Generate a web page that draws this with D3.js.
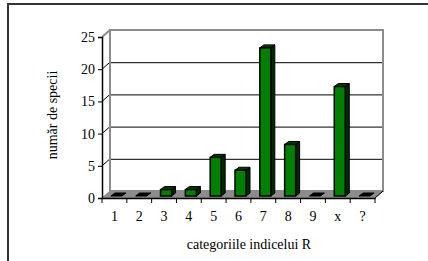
<!DOCTYPE html>
<html>
<head>
<meta charset="utf-8">
<script src="https://cdn.jsdelivr.net/npm/d3@7"></script>
<style>
  body { margin: 0; background: #fff; }
  text { font-family: "Liberation Serif", "Times New Roman", serif; font-size: 14px; fill: #000; }
</style>
</head>
<body>
<div id="chart"></div>
<script>
// data
var categories = ["1", "2", "3", "4", "5", "6", "7", "8", "9", "x", "?"];
var counts = [0, 0, 1, 1, 6, 4, 23, 8, 0, 17, 0];
var yTicks = [0, 5, 10, 15, 20, 25];

var width = 428, height = 261;
var x0 = 102, x1 = 375, yBase = 198, yTop = 37;
var wallDx = 8, wallDy = -7;      // depth of back wall
var barDx = 4, barDy = -3;        // depth of a bar
var barOff = 2;                   // bars sit half way into the floor

var svg = d3.select("#chart").append("svg")
    .attr("width", width).attr("height", height);

// outer frame
svg.append("rect")
    .attr("x", 8).attr("y", 4)
    .attr("width", 440).attr("height", 280)
    .attr("fill", "none").attr("stroke", "#333").attr("stroke-width", 2);

var x = d3.scaleBand().domain(categories).range([x0, x1]);
var y = d3.scaleLinear().domain([0, 25]).range([yBase, yTop]);

// floor
svg.append("path")
    .attr("d", "M" + x0 + "," + yBase + "L" + x1 + "," + yBase +
        "L" + (x1 + wallDx) + "," + (yBase + wallDy) +
        "L" + (x0 + wallDx) + "," + (yBase + wallDy) + "Z")
    .attr("fill", "#8c8c8c").attr("stroke", "#8c8c8c");

// back wall gridlines and side diagonals
yTicks.forEach(function(t) {
    if (t == 0) return;
    var yy = y(t);
    svg.append("line")
        .attr("x1", x0).attr("y1", yy)
        .attr("x2", x0 + wallDx).attr("y2", yy + wallDy)
        .attr("stroke", t == 25 ? "#8c8c8c" : "#000").attr("stroke-width", t == 25 ? 2 : 1);
    if (t < 25) {
        svg.append("line")
            .attr("x1", x0 + wallDx).attr("y1", yy + wallDy + 0.5)
            .attr("x2", x1 + wallDx).attr("y2", yy + wallDy + 0.5)
            .attr("stroke", "#000").attr("stroke-width", 1);
    }
});

// back wall border
svg.append("rect")
    .attr("x", x0 + wallDx).attr("y", y(25) + wallDy)
    .attr("width", x1 - x0).attr("height", y(0) - y(25))
    .attr("fill", "none").attr("stroke", "#8c8c8c").attr("stroke-width", 2);
svg.append("line")
    .attr("x1", x1).attr("y1", yBase)
    .attr("x2", x1 + wallDx).attr("y2", yBase + wallDy)
    .attr("stroke", "#000").attr("stroke-width", 1);

// bars
var bw = 11;
var bars = svg.selectAll(".bar")
    .data(categories.map(function(c, i) { return {cat: c, v: counts[i]}; }))
  .enter().append("g").attr("class", "bar");

bars.each(function(d) {
    var g = d3.select(this);
    var bx = x(d.cat) + (x.bandwidth() - bw) / 2 + barOff;
    var by0 = y(0) - barOff;
    var by1 = y(d.v) - barOff;
    if (d.v == 0) {
        g.append("path")
            .attr("d", "M" + bx + "," + by0 + "L" + (bx + bw) + "," + by0 +
                "L" + (bx + bw + barDx) + "," + (by0 + barDy) +
                "L" + (bx + barDx) + "," + (by0 + barDy) + "Z")
            .attr("fill", "#000").attr("stroke", "#000");
        return;
    }
    // side
    g.append("path")
        .attr("d", "M" + (bx + bw) + "," + by0 + "L" + (bx + bw) + "," + by1 +
            "L" + (bx + bw + barDx) + "," + (by1 + barDy) +
            "L" + (bx + bw + barDx) + "," + (by0 + barDy) + "Z")
        .attr("fill", "#002800").attr("stroke", "#000");
    // top
    g.append("path")
        .attr("d", "M" + bx + "," + by1 + "L" + (bx + bw) + "," + by1 +
            "L" + (bx + bw + barDx) + "," + (by1 + barDy) +
            "L" + (bx + barDx) + "," + (by1 + barDy) + "Z")
        .attr("fill", "#003c00").attr("stroke", "#000");
    // front
    g.append("rect")
        .attr("x", bx).attr("y", by1)
        .attr("width", bw).attr("height", by0 - by1)
        .attr("fill", "#008000").attr("stroke", "#000").attr("stroke-width", 1.5);
});

// y axis
var yAxis = svg.append("g").attr("transform", "translate(" + x0 + ",0)")
    .call(d3.axisLeft(y).tickValues(yTicks).tickSize(4).tickPadding(3));
yAxis.select(".domain").attr("stroke", "#000").attr("stroke-width", 1.5);
yAxis.selectAll("text").style("font-size", "14px").style("font-family", "Liberation Serif");

// x axis
var xAxis = svg.append("g").attr("transform", "translate(0," + yBase + ")")
    .call(d3.axisBottom(x).tickSize(0).tickPadding(13));
xAxis.select(".domain").attr("stroke", "#000").attr("stroke-width", 1.5);
xAxis.selectAll("text").style("font-size", "14px").style("font-family", "Liberation Serif");
xAxis.selectAll(".sep")
    .data(d3.range(categories.length + 1))
  .enter().append("line")
    .attr("x1", function(i) { return x0 + i * x.step(); })
    .attr("x2", function(i) { return x0 + i * x.step(); })
    .attr("y1", 0).attr("y2", 5)
    .attr("stroke", "#000");

// titles
svg.append("text")
    .attr("x", 249).attr("y", 249)
    .attr("text-anchor", "middle")
    .text("categoriile indicelui R");
svg.append("text")
    .attr("transform", "translate(57,115) rotate(-90)")
    .attr("text-anchor", "middle")
    .text("număr de specii");
</script>
</body>
</html>
